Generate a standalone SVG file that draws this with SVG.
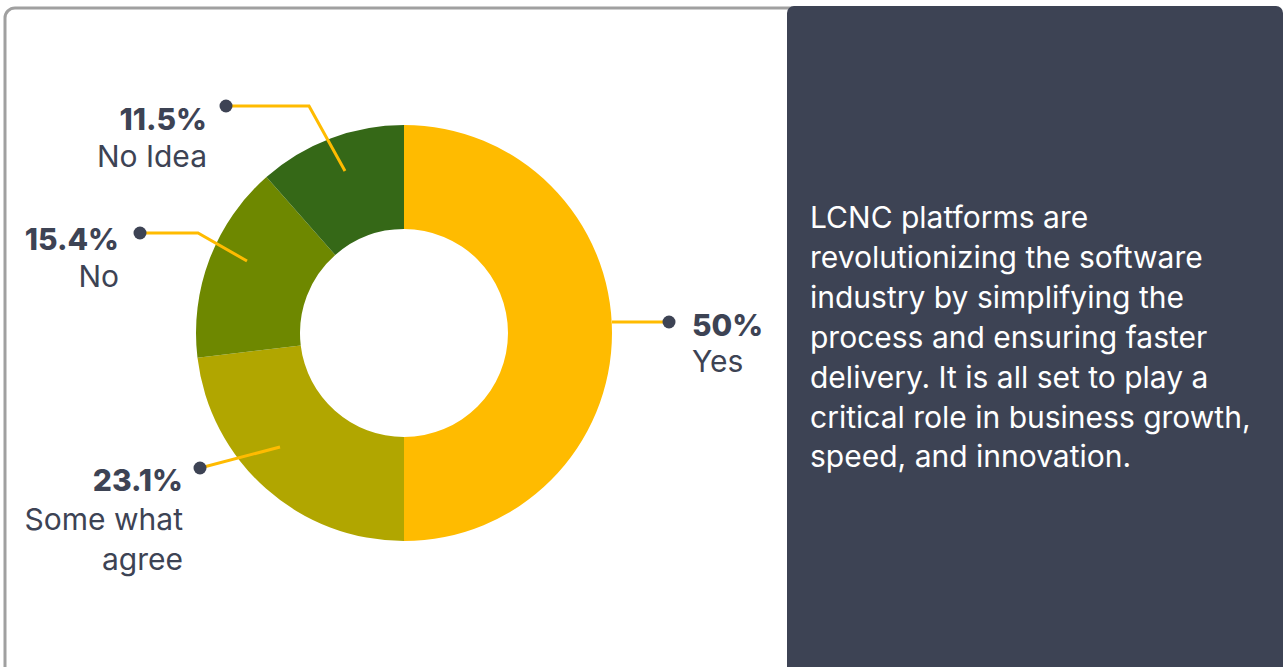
<svg xmlns="http://www.w3.org/2000/svg" width="1284" height="667" viewBox="0 0 1284 667">
<style>
.pct{font-family:Inter,"Liberation Sans",sans-serif;font-weight:800;font-size:30px;fill:#3D4354;text-anchor:end}
.lbl{font-family:Inter,"Liberation Sans",sans-serif;font-weight:400;font-size:30px;fill:#3D4354;text-anchor:end}
.st{text-anchor:start}
.body{font-family:Inter,"Liberation Sans",sans-serif;font-size:30px;fill:#FFFFFF}
.lead{fill:none;stroke:#FFBB00;stroke-width:3}
.dot{fill:#3D4354}
</style>
<rect x="5" y="8" width="1260" height="700" rx="10" fill="#FFFFFF" stroke="#A0A0A0" stroke-width="3"/>
<g id="chart">
<path id="seg-yes" d="M404,125 A208,208 0 0 1 404,541 L404,437 A104,104 0 0 0 404,229 Z" fill="#FFBB00"/>
<path id="seg-agree" d="M404,541 A208,208 0 0 1 197.48,357.77 L300.74,345.39 A104,104 0 0 0 404,437 Z" fill="#B1A600"/>
<path id="seg-no" d="M197.48,357.77 A208,208 0 0 1 266.45,176.98 L335.22,254.99 A104,104 0 0 0 300.74,345.39 Z" fill="#6E8800"/>
<path id="seg-noidea" d="M266.45,176.98 A208,208 0 0 1 404,125 L404,229 A104,104 0 0 0 335.22,254.99 Z" fill="#356817"/>
</g>
<g id="connectors">
<polyline class="lead" points="226,106 309,106 345,171"/>
<polyline class="lead" points="140,233 198,233 247,261"/>
<polyline class="lead" points="200,468 280,447"/>
<polyline class="lead" points="612,322 669,322"/>
<circle class="dot" cx="226" cy="106" r="6.5"/>
<circle class="dot" cx="140" cy="233" r="6.5"/>
<circle class="dot" cx="200" cy="468" r="6.5"/>
<circle class="dot" cx="669" cy="322" r="6.5"/>
</g>
<g id="label-noidea">
<text class="pct" x="207" y="130">11.5%</text>
<text class="lbl" x="207" y="167">No Idea</text>
</g>
<g id="label-no">
<text class="pct" x="119" y="250">15.4%</text>
<text class="lbl" x="119" y="287">No</text>
</g>
<g id="label-agree">
<text class="pct" x="183" y="491">23.1%</text>
<text class="lbl" x="183" y="530">Some what</text>
<text class="lbl" x="183" y="570">agree</text>
</g>
<g id="label-yes">
<text class="pct st" x="692" y="336">50%</text>
<text class="lbl st" x="692" y="372">Yes</text>
</g>
<g id="panel">
<rect x="787" y="6" width="496" height="690" rx="7" fill="#3D4354"/>
<text class="body">
<tspan x="810" y="228">LCNC platforms are</tspan>
<tspan x="810" y="268">revolutionizing the software</tspan>
<tspan x="810" y="308">industry by simplifying the</tspan>
<tspan x="810" y="348">process and ensuring faster</tspan>
<tspan x="810" y="388">delivery. It is all set to play a</tspan>
<tspan x="810" y="428">critical role in business growth,</tspan>
<tspan x="810" y="467">speed, and innovation.</tspan>
</text>
</g>
</svg>
